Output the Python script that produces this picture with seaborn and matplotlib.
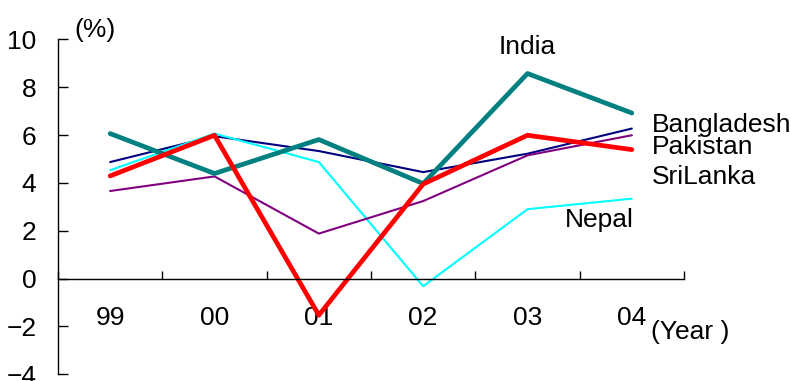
import matplotlib
matplotlib.use("Agg")
import matplotlib.pyplot as plt
import seaborn as sns
import numpy as np

sns.set_theme(style="white")
plt.rcParams["font.family"] = ["Liberation Sans", "DejaVu Sans"]
plt.rcParams["text.color"] = "black"
plt.rcParams["xtick.color"] = "black"
plt.rcParams["ytick.color"] = "black"

years = ["99", "00", "01", "02", "03", "04"]
bangladesh = [4.87, 5.95, 5.33, 4.45, 5.22, 6.27]
nepal = [4.53, 6.06, 4.87, -0.32, 2.90, 3.34]
srilanka = [3.66, 4.27, 1.88, 3.24, 5.15, 5.99]
india = [6.06, 4.39, 5.81, 3.97, 8.57, 6.92]
pakistan = [4.29, 5.99, -1.53, 3.95, 5.99, 5.39]

series = [
    ("Bangladesh", bangladesh, "#000080", 1.5),
    ("Nepal", nepal, "#00FFFF", 1.5),
    ("SriLanka", srilanka, "#800080", 1.5),
    ("India", india, "#008080", 3.4),
    ("Pakistan", pakistan, "#FF0000", 3.4),
]

fig = plt.figure(figsize=(7.91, 3.81), dpi=100)
ax = fig.add_axes([58 / 791, 6.7 / 381, 626 / 791, 335 / 381])

xpos = np.arange(len(years))
for name, vals, color, lw in series:
    sns.lineplot(x=xpos, y=vals, color=color, linewidth=lw, ax=ax,
                 legend=False, clip_on=False)

ax.set_xlim(-0.5, len(years) - 0.5)
ax.set_ylim(-4, 10)

for s in ["top", "right"]:
    ax.spines[s].set_visible(False)
ax.spines["bottom"].set_position(("data", 0))
for s in ["left", "bottom"]:
    ax.spines[s].set_color("black")
    ax.spines[s].set_linewidth(1)

fs = 19
ax.set_yticks(range(-4, 11, 2))
ax.tick_params(axis="y", direction="in", length=7, width=1, color="black",
               labelsize=fs, pad=15.5, left=True)
ax.set_xticks(xpos)
ax.set_xticklabels(years)
ax.set_xticks(np.arange(-0.5, len(years)), minor=True)
ax.tick_params(axis="x", which="major", length=0, labelsize=fs, pad=20)
ax.tick_params(axis="x", which="minor", direction="in", length=6,
               width=1, color="black", bottom=True)
for lab in ax.get_xticklabels() + ax.get_yticklabels():
    lab.set_color("black")
ax.set_xlabel("")
ax.set_ylabel("")

ax.text(-0.34, 10.38, "(%)", fontsize=fs, ha="left", va="center",
        clip_on=False)
ax.text(5.18, -2.23, "(Year )", fontsize=fs, ha="left", va="center",
        clip_on=False)
ax.text(4.0, 9.68, "India", fontsize=fs, ha="center", va="center")
ax.text(5.19, 6.41, "Bangladesh", fontsize=fs, ha="left", va="center",
        clip_on=False)
ax.text(5.19, 5.50, "Pakistan", fontsize=fs, ha="left", va="center",
        clip_on=False)
ax.text(5.19, 4.25, "SriLanka", fontsize=fs, ha="left", va="center",
        clip_on=False)
ax.text(4.36, 2.44, "Nepal", fontsize=fs, ha="left", va="center")

fig.savefig("out.png", dpi=100, facecolor="white")
